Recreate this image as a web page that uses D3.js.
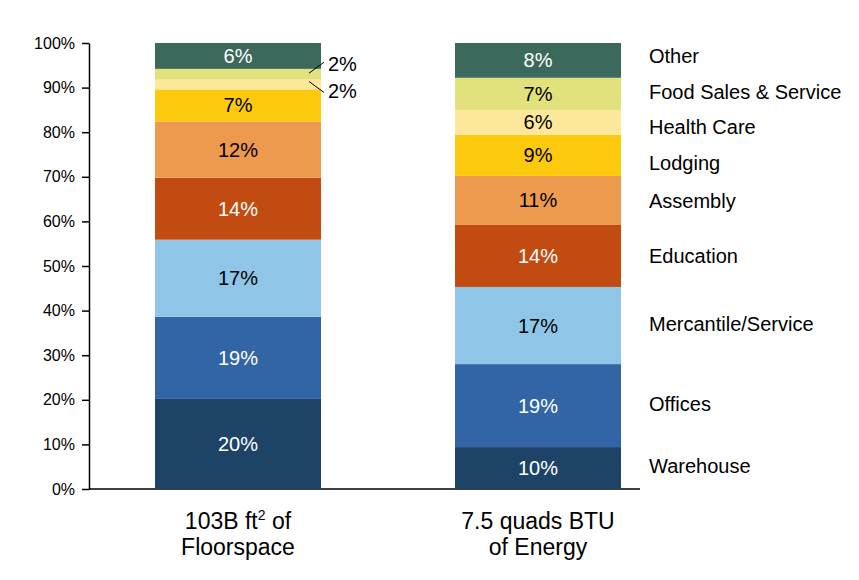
<!DOCTYPE html>
<html>
<head>
<script src="https://d3js.org/d3.v7.min.js"></script>
<style>
body { margin: 0; background: #fff; }
text { font-family: "Liberation Sans", Arial, sans-serif; }
</style>
</head>
<body>
<script>
// data
const categories = ["Warehouse", "Offices", "Mercantile/Service", "Education", "Assembly", "Lodging", "Health Care", "Food Sales & Service", "Other"];
const bars = ["floor", "energy"];
const floorValues = [20.2, 18.4, 17.3, 13.9, 12.6, 7.2, 2.2, 2.4, 5.8];
const floorLabels = ["20%", "19%", "17%", "14%", "12%", "7%", "2%", "2%", "6%"];
const energyValues = [9.4, 18.6, 17.3, 13.9, 11.0, 9.2, 5.6, 7.2, 7.8];
const energyLabels = ["10%", "19%", "17%", "14%", "11%", "9%", "6%", "7%", "8%"];
const colors = ["#1d4466", "#3265a6", "#8fc6e7", "#c24b12", "#ed9a4e", "#fdc90c", "#fde79a", "#e1e27b", "#3b6a5c"];
const textColors = ["#fff", "#fff", "#000", "#fff", "#000", "#000", "#000", "#000", "#fff"];
const yTicks = [0, 10, 20, 30, 40, 50, 60, 70, 80, 90, 100];

const W = 859, H = 580;
const svg = d3.select("body").append("svg").attr("width", W).attr("height", H);

const y = d3.scaleLinear().domain([0, 100]).range([489, 43]);
const x = d3.scaleBand().domain(bars).range([155, 621]).paddingInner(0.4467).paddingOuter(0);

// y axis
svg.append("g")
  .attr("transform", "translate(89,0)")
  .call(d3.axisLeft(y).tickValues(yTicks).tickFormat(d => d + "%").tickSize(7).tickSizeOuter(0))
  .call(g => g.selectAll("text").attr("font-size", 16).attr("fill", "#000").attr("dx", -4))
  .call(g => g.selectAll("line,path").attr("stroke", "#000").attr("stroke-width", 1.5));

// x axis line
svg.append("line").attr("x1", 89).attr("x2", 640).attr("y1", 489).attr("y2", 489)
  .attr("stroke", "#000").attr("stroke-width", 1.5);

function stackOf(vals) {
  let acc = 0;
  return vals.map((v, i) => { const s = { i, y0: acc, y1: acc + v }; acc += v; return s; });
}

[[bars[0], floorValues, floorLabels], [bars[1], energyValues, energyLabels]].forEach(([key, vals, labs]) => {
  const g = svg.append("g");
  const st = stackOf(vals);
  const right = x(key) + x.bandwidth();
  g.selectAll("rect").data(st).enter().append("rect")
    .attr("x", x(key)).attr("width", x.bandwidth())
    .attr("y", d => y(d.y1)).attr("height", d => y(d.y0) - y(d.y1))
    .attr("fill", d => colors[d.i]);
  st.forEach(d => {
    const cy = (y(d.y0) + y(d.y1)) / 2;
    if (vals[d.i] < 4) {
      // small segments: outside labels with leader lines
      const up = d.i === 7;
      const ly = up ? cy - 10 : cy + 7;
      g.append("line").attr("x1", right - 12).attr("y1", up ? cy - 1 : cy - 3)
        .attr("x2", right + 3).attr("y2", up ? ly - 2 : ly + 1)
        .attr("stroke", "#000").attr("stroke-width", 1);
      g.append("text").attr("x", right + 7).attr("y", ly + 7)
        .attr("font-size", 20).attr("fill", "#000").text(labs[d.i]);
    } else {
      g.append("text").attr("x", x(key) + x.bandwidth() / 2).attr("y", cy + 7)
        .attr("text-anchor", "middle").attr("font-size", 20)
        .attr("fill", textColors[d.i]).text(labs[d.i]);
    }
    if (key === "energy") {
      const legY = [466, 404, 324, 256, 201, 163, 127, 92, 56][d.i];
      svg.append("text").attr("x", 649).attr("y", legY + 7).attr("font-size", 20)
        .attr("fill", "#000").text(categories[d.i]);
    }
  });
});

// category labels
const cx1 = x("floor") + x.bandwidth() / 2, cx2 = x("energy") + x.bandwidth() / 2;
const t1 = svg.append("text").attr("x", cx1).attr("y", 529).attr("text-anchor", "middle").attr("font-size", 23);
t1.append("tspan").text("103B ft");
t1.append("tspan").attr("font-size", 14).attr("dy", -9).text("2");
t1.append("tspan").attr("dy", 9).text(" of");
svg.append("text").attr("x", cx1).attr("y", 555).attr("text-anchor", "middle").attr("font-size", 23).text("Floorspace");
svg.append("text").attr("x", cx2).attr("y", 529).attr("text-anchor", "middle").attr("font-size", 23).text("7.5 quads BTU");
svg.append("text").attr("x", cx2).attr("y", 555).attr("text-anchor", "middle").attr("font-size", 23).text("of Energy");
</script>
</body>
</html>
